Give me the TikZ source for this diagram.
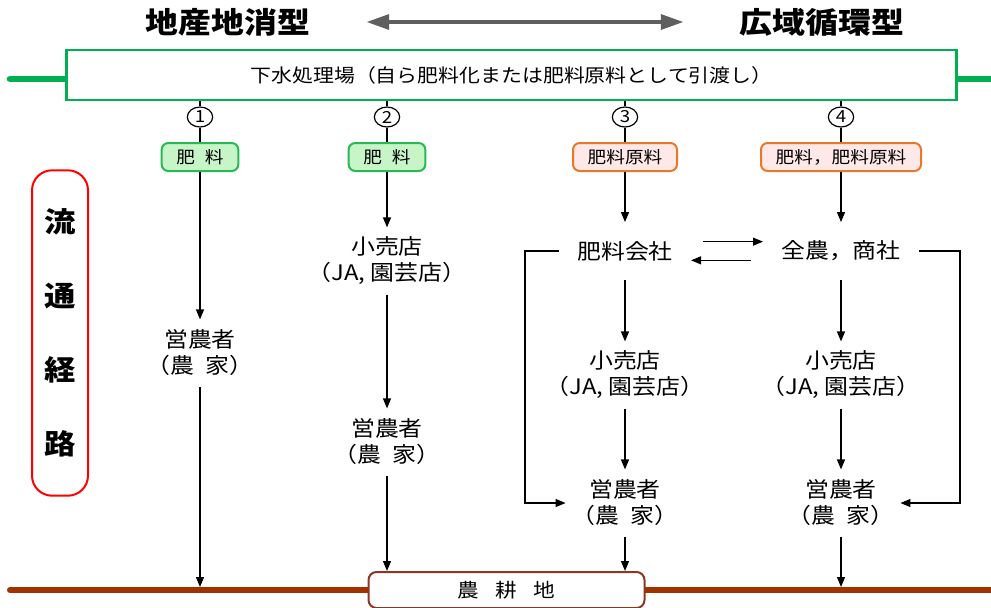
\documentclass[tikz,border=0pt]{standalone}
\usepackage{fontspec}
\setmainfont[FakeStretch=1.12]{Noto Sans CJK JP}
\usepackage{tikz}
\usetikzlibrary{arrows.meta,shapes.geometric,positioning}
\definecolor{plantgreen}{RGB}{0,176,80}
\definecolor{labgreen}{RGB}{40,185,85}
\definecolor{labgreenfill}{RGB}{200,245,200}
\definecolor{laborange}{RGB}{232,120,40}
\definecolor{laborangefill}{RGB}{255,232,232}
\definecolor{routered}{RGB}{255,0,0}
\definecolor{soilbrown}{RGB}{160,50,0}
\definecolor{farmbrown}{RGB}{140,55,35}
\definecolor{arrowgray}{RGB}{95,95,95}

\begin{document}
\begin{tikzpicture}[
  x=0.75pt, y=-0.75pt,
  arr/.style={-{Triangle[length=7.5pt,width=6pt]}, line width=0.9pt},
  link/.style={line width=0.9pt},
  dbl/.style={{Triangle[length=17pt,width=11pt]}-{Triangle[length=17pt,width=11pt]},
    line width=3pt, arrowgray},
  titleText/.style={inner sep=0pt, font=\fontsize{22}{26}\selectfont\bfseries},
  plantBox/.style={
    draw=plantgreen, line width=2.2pt,
    minimum width=668pt, minimum height=37.5pt,
    font=\fontsize{14}{17}\selectfont
  },
  pipe/.style={line width=5pt, plantgreen, line cap=round},
  numMark/.style={
    ellipse, draw, line width=0.9pt, inner sep=0pt,
    minimum width=19pt, minimum height=15pt,
    font=\fontsize{12.5}{13}\selectfont
  },
  greenLab/.style={
    draw=labgreen, fill=labgreenfill, line width=1.5pt, rounded corners=5pt,
    minimum height=21pt, inner xsep=11pt, inner ysep=0pt,
    font=\fontsize{12.5}{14}\selectfont
  },
  orangeLab/.style={greenLab, draw=laborange, fill=laborangefill},
  stage/.style={
    align=center, minimum height=50pt, inner xsep=13.5pt, inner ysep=0pt,
    font=\fontsize{16}{19.5}\selectfont\addfontfeature{RawFeature=+halt}
  },
  firm/.style={minimum height=43pt, inner xsep=13.5pt, inner ysep=0pt,
    font=\fontsize{16}{19.5}\selectfont},
  routeBox/.style={
    draw=routered, line width=1.5pt, rounded corners=15pt, align=center,
    minimum width=42pt, minimum height=244pt,
    font=\fontsize{21}{55.5}\selectfont\bfseries
  },
  soil/.style={line width=4.5pt, soilbrown, line cap=round},
  farmBox/.style={
    draw=farmbrown, fill=white, line width=1.5pt, rounded corners=6pt,
    minimum width=207pt, minimum height=27pt,
    font=\fontsize{14.5}{16}\selectfont
  }
]
\useasboundingbox (0,0) rectangle (991,607);

% --- Titles ---
\node[titleText] (local) at (228,22) {地産地消型};
\node[titleText] (wide) at (822,22) {広域循環型};
\draw[dbl, shorten <=42pt, shorten >=42pt] (local.east) -- (wide.west);

% --- Sewage plant ---
\coordinate (pipeL) at (10,79);
\coordinate (pipeR) at (995,79);
\node[plantBox] (plant) at (511.5,75) {下水処理場（自ら肥料化または肥料原料として引渡し）};
\draw[pipe] (pipeL) -- (pipeL -| plant.west);
\draw[pipe] (pipeR -| plant.east) -- (pipeR);

% --- Routes ---
\foreach \i/\x in {1/200,2/387,3/625,4/841}{
  \node[numMark] (n\i) at (\x,117) {\i};
  \draw[link] (plant.south -| n\i) -- (n\i);
}

% --- Products ---
\node[greenLab] (lab1) at (200,157) {肥\hspace{.6em}料};
\node[greenLab] (lab2) at (387,157) {肥\hspace{.6em}料};
\node[orangeLab] (lab3) at (625,157) {肥料原料};
\node[orangeLab] (lab4) at (841,157) {肥料，肥料原料};
\foreach \i in {1,...,4}{
  \draw[link] (n\i) -- (lab\i);
}

% --- Distribution stages ---
\node[stage] (farm1) at (200,353) {営農者\\（農\hspace{.5em}家）};
\node[stage] (shop2) at (387,261) {小売店\\（JA, 園芸店）};
\node[stage] (farm2) at (387,442) {営農者\\（農\hspace{.5em}家）};
\node[firm]  (maker) at (625,251) {肥料会社};
\node[firm]  (trader) at (841,251) {全農，商社};
\node[stage] (shop3) at (625,375) {小売店\\（JA, 園芸店）};
\node[stage] (farm3) at (625,503) {営農者\\（農\hspace{.5em}家）};
\node[stage] (shop4) at (841,375) {小売店\\（JA, 園芸店）};
\node[stage] (farm4) at (841,503) {営農者\\（農\hspace{.5em}家）};

% --- Route box ---
\node[routeBox] (route) at (60,333) {流\\通\\経\\路};

% --- Farmland ---
\coordinate (soilL) at (10,590);
\coordinate (soilR) at (995,590);
\coordinate (g1) at (200,587);
\coordinate (g4) at (841,587);
\draw[soil] (soilL) -- (soilR);
\node[farmBox] (field) at (506.5,590) {農\hspace{.85em}耕\hspace{.85em}地};

% --- Flows ---
\draw[arr] (lab1) -- (farm1);
\draw[arr] (farm1) -- (g1);
\draw[arr] (lab2) -- (shop2);
\draw[arr] (shop2) -- (farm2);
\draw[arr] (farm2) -- (field.north -| farm2);
\draw[arr] (lab3) -- (maker);
\draw[arr] (maker) -- (shop3);
\draw[arr] (shop3) -- (farm3);
\draw[arr] (farm3) -- (field.north -| farm3);
\draw[arr] (lab4) -- (trader);
\draw[arr] (trader) -- (shop4);
\draw[arr] (shop4) -- (farm4);
\draw[arr] (farm4) -- (g4);

% --- Exchange and bypass ---
\draw[arr, shorten <=9pt] ([yshift=7pt]maker.east) -- ([yshift=7pt]trader.west);
\draw[arr, shorten <=9pt] ([yshift=-7pt]trader.west) -- ([yshift=-7pt]maker.east);
\draw[arr] (maker.west) -- ++(-34,0) |- (farm3.west);
\draw[arr] (trader.east) -- ++(41,0) |- (farm4.east);

\end{tikzpicture}
\end{document}
